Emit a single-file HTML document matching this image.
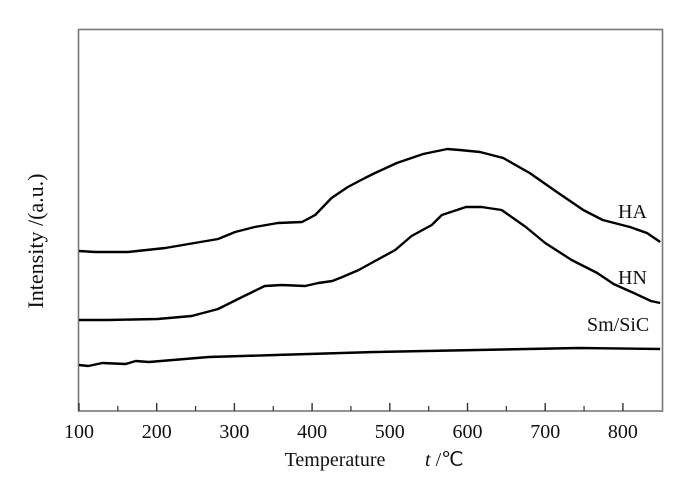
<!DOCTYPE html>
<html><head><meta charset="utf-8"><style>
body{margin:0;background:#fff;width:700px;height:472px;overflow:hidden}
svg text{font-family:"Liberation Serif",serif;fill:#111}
</style></head><body>
<svg id="chart" width="700" height="472" viewBox="0 0 700 472">
<rect x="78.5" y="29.5" width="584" height="381.5" fill="none" stroke="#777" stroke-width="1.6"/>
<g id="ticks"></g><g id="series"></g>
<text x="335" y="466" font-size="20" text-anchor="middle">Temperature</text>
<text x="425" y="466" font-size="20" text-anchor="start"><tspan font-style="italic">t</tspan> /℃</text>
<text transform="translate(43,241) rotate(-90)" font-size="22" text-anchor="middle">Intensity /(a.u.)</text>
<text x="618" y="218" font-size="20">HA</text>
<text x="618" y="284" font-size="20">HN</text>
<text x="587" y="331" font-size="20">Sm/SiC</text>
</svg>
<script>
const xTicks=[100,200,300,400,500,600,700,800];
const xMinor=[150,250,350,450,550,650,750];
const haT=[100,121,163,211,279,301,326,356,387,404,425,446,468,481,509,543,574,590,616,646,680,715,749,774,809,831,848];
const haV=[160,159,159,163,172,179,184,188,189,196,213,224,233,238,248,257,262,261,259,253,238,219,201,191,184,178,169];
const hnT=[100,137,201,245,279,310,339,361,391,408,426,439,460,481,507,528,554,567,598,618,644,675,700,734,767,788,814,836,848];
const hnV=[91,91,92,95,102,114,125,126,125,128,130,134,141,150,161,175,186,196,204,204,201,184,168,151,138,127,118,110,108];
const smT=[100,112,130,160,173,190,267,353,481,743,848];
const smV=[46,45,48,47,50,49,54,56,59,63,62];
const X=t=>79+(t-100)*0.777, Y=v=>411-v;
const svg=document.getElementById('chart'),NS='http://www.w3.org/2000/svg';
const tg=document.getElementById('ticks'),sg=document.getElementById('series');
xTicks.forEach(t=>{
 const l=document.createElementNS(NS,'line');
 
 
 l.setAttribute('x1',X(t));l.setAttribute('x2',X(t));l.setAttribute('y1',411);l.setAttribute('y2',403);
 l.setAttribute('stroke','#333');l.setAttribute('stroke-width','1.4');tg.appendChild(l);
 const tx=document.createElementNS(NS,'text');
 
 
 tx.setAttribute('x',X(t));tx.setAttribute('y',438);tx.setAttribute('font-size','20');tx.setAttribute('text-anchor','middle');
 tx.textContent=t;tg.appendChild(tx);
});
xMinor.forEach(t=>{
 const l=document.createElementNS(NS,'line');
 
 
 l.setAttribute('x1',X(t));l.setAttribute('x2',X(t));l.setAttribute('y1',411);l.setAttribute('y2',406);
 l.setAttribute('stroke','#333');l.setAttribute('stroke-width','1.2');tg.appendChild(l);
});
function line(ts,vs,name){
 const p=document.createElementNS(NS,'polyline');
 
 
 p.setAttribute('points',ts.map((t,i)=>X(t)+','+Y(vs[i])).join(' '));
 p.setAttribute('fill','none');p.setAttribute('stroke','#000');p.setAttribute('stroke-width','2.4');p.setAttribute('stroke-linejoin','round');
 sg.appendChild(p);
}
line(haT,haV,'series-ha');line(hnT,hnV,'series-hn');line(smT,smV,'series-smsic');
</script>
</body></html>
